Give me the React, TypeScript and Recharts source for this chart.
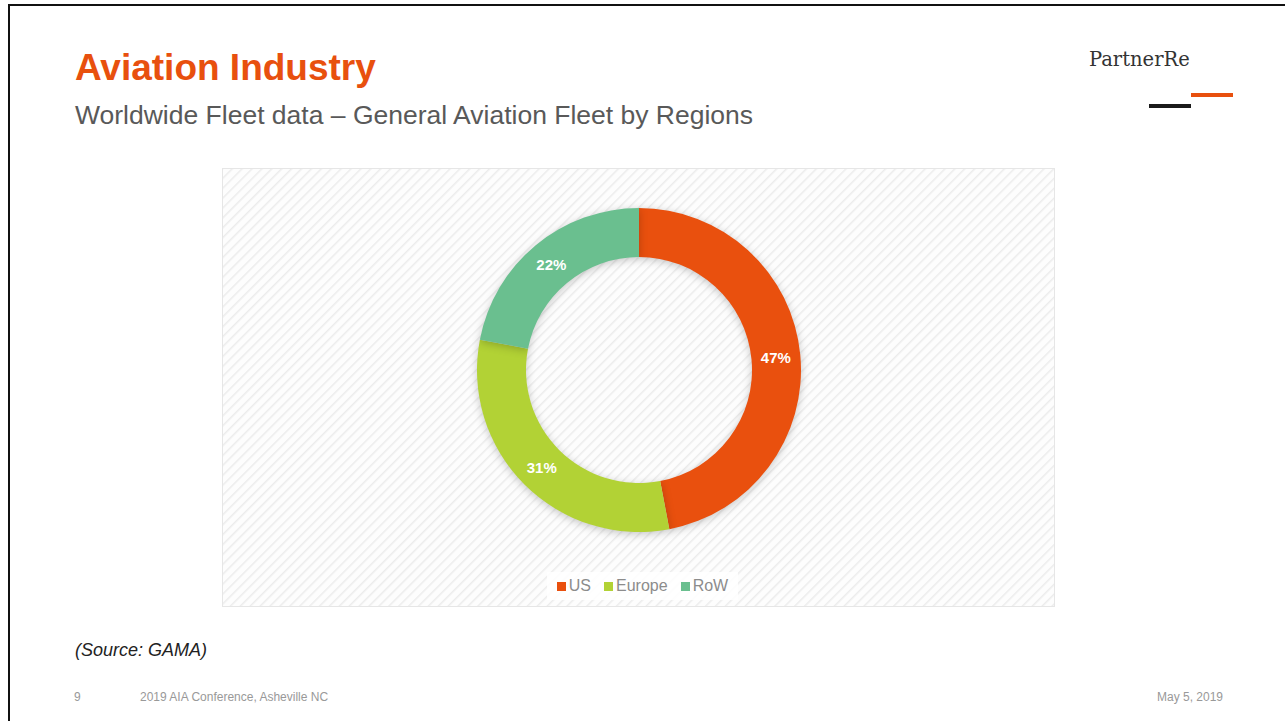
import React from 'react';
import { PieChart, Pie, Cell, Legend } from 'recharts';

const regions = ['US', 'Europe', 'RoW'];
const shares = [47, 31, 22];
const colors = ['#E9500E', '#B2D235', '#6ABF8F'];

const data = regions.map((name, i) => ({ name, value: shares[i] }));

const RADIAN = Math.PI / 180;

const renderLabel = (props: any) => {
  const { cx, cy, midAngle, innerRadius, outerRadius, value } = props;
  const r = (innerRadius + outerRadius) / 2;
  const x = cx + r * Math.cos(-midAngle * RADIAN);
  const y = cy + r * Math.sin(-midAngle * RADIAN);
  return (
    <text x={x} y={y} fill="#fff" textAnchor="middle" dominantBaseline="central"
      style={{ fontSize: 15, fontWeight: 700, fontFamily: '"Liberation Sans", Arial, sans-serif' }}>
      {value}%
    </text>
  );
};

// keep legend in the data order (recharts may sort the payload)
const LegendBox = () => (
  <div style={{ display: 'flex', justifyContent: 'center', paddingLeft: 8 }}>
    <div style={{
      display: 'flex', alignItems: 'center', gap: 13, background: 'rgba(255,255,255,0.85)',
      padding: '4px 10px', height: 20,
    }}>
      {regions.map((name, i) => (
        <div key={name} style={{ display: 'flex', alignItems: 'center' }}>
          <span style={{ width: 9, height: 9, background: colors[i], display: 'inline-block', marginRight: 3 }} />
          <span style={{ color: '#8c8c8c', fontSize: 16 }}>{name}</span>
        </div>
      ))}
    </div>
  </div>
);

export default function App() {
  const font = '"Liberation Sans", Arial, sans-serif';
  return (
    <div style={{ position: 'absolute', left: 0, top: 0, width: 1285, height: 721, background: '#fff', overflow: 'hidden', fontFamily: font }}>
      <style>{`.recharts-pie-sector { filter: drop-shadow(0px 2px 4px rgba(0,0,0,0.22)); }`}</style>
      {/* slide frame */}
      <div style={{ position: 'absolute', left: 8, top: 4, width: 1300, height: 760, border: '2px solid #111', boxSizing: 'border-box' }} />

      <div style={{ position: 'absolute', left: 75, top: 47, fontSize: 37, fontWeight: 700, color: '#E8500E' }}>Aviation Industry</div>
      <div style={{ position: 'absolute', left: 75, top: 100, fontSize: 26.5, color: '#595959' }}>
        Worldwide Fleet data – General Aviation Fleet by Regions
      </div>

      <div style={{ position: 'absolute', left: 1089, top: 48, fontSize: 19.5, color: '#333', fontFamily: '"DejaVu Serif", "Liberation Serif", serif' }}>PartnerRe</div>
      <div style={{ position: 'absolute', left: 1149, top: 104, width: 42, height: 4, background: '#1a1a1a' }} />
      <div style={{ position: 'absolute', left: 1191, top: 93, width: 42, height: 4, background: '#E8500E' }} />

      {/* plot area background */}
      <svg style={{ position: 'absolute', left: 222, top: 168 }} width={833} height={439}>
        <defs>
          <pattern id="stripes" width="7" height="7" patternUnits="userSpaceOnUse" patternTransform="rotate(-45)">
            <rect width="7" height="7" fill="#fdfdfd" />
            <line x1="0" y1="0" x2="7" y2="0" stroke="#ececec" strokeWidth="3" />
          </pattern>
        </defs>
        <rect x={0.5} y={0.5} width={832} height={438} fill="url(#stripes)" stroke="#e6e6e6" />
      </svg>

      <div style={{ position: 'absolute', left: 222, top: 168 }}>
        <PieChart width={833} height={439} margin={{ top: 0, right: 0, bottom: 0, left: 0 }}>
          <Pie
            data={data}
            dataKey="value"
            nameKey="name"
            cx={417}
            cy={202}
            innerRadius={113}
            outerRadius={162}
            startAngle={90}
            endAngle={-270}
            stroke="none"
            label={renderLabel}
            labelLine={false}
            isAnimationActive={false}
          >
            {data.map((d, i) => (
              <Cell key={d.name} fill={colors[i]} />
            ))}
          </Pie>
          <Legend content={<LegendBox />} wrapperStyle={{ top: 404, left: 0, width: 833 }} />
        </PieChart>
      </div>

      <div style={{ position: 'absolute', left: 75, top: 640, fontSize: 18, fontStyle: 'italic', color: '#222' }}>(Source: GAMA)</div>

      <div style={{ position: 'absolute', left: 74, top: 690, fontSize: 12, color: '#999' }}>9</div>
      <div style={{ position: 'absolute', left: 140, top: 690, fontSize: 12, color: '#999' }}>2019 AIA Conference, Asheville NC</div>
      <div style={{ position: 'absolute', left: 1157, top: 690, fontSize: 12, color: '#999' }}>May 5, 2019</div>
    </div>
  );
}
